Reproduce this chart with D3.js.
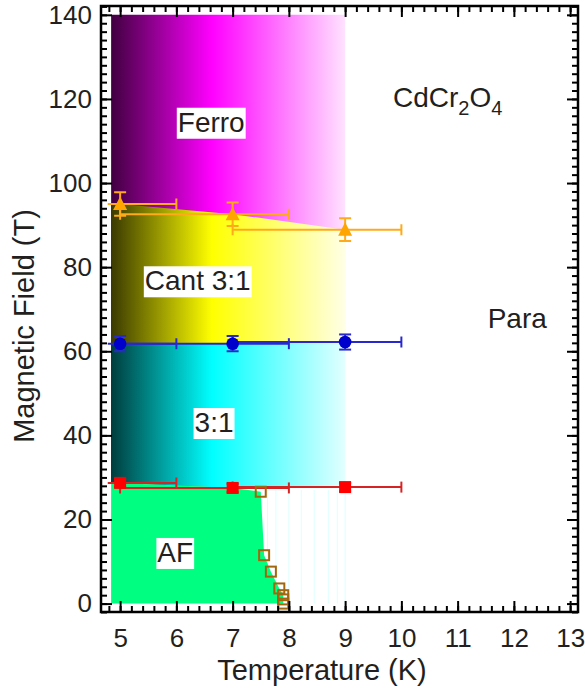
<!DOCTYPE html>
<html>
<head>
<meta charset="utf-8">
<script src="https://cdn.jsdelivr.net/npm/d3@7"></script>
<style>
  body { margin: 0; background: #fff; }
  text { font-family: "Liberation Sans", Arial, Helvetica, sans-serif; fill: #231f20; }
</style>
</head>
<body>
<svg id="chart" width="585" height="690"></svg>
<script>
// measured phase boundaries (T in K, field in T)
const temps = [5, 7, 9];
const tempLo = [3, 5, 7];
const tempHi = [6, 8, 10];
const ferroField = [95, 92.6, 88.9];
const ferroErr = [2.8, 2.8, 2.7];
const cantField = [61.8, 61.8, 62.2];
const cantErr = [1.8, 1.8, 1.8];
const afField = [28.7, 27.5, 27.7];
const afErr = [1, 1, 1];
// AF -> 3:1 transition (open squares)
const neelT = [7.5, 7.56, 7.68, 7.83, 7.9, 7.9, 7.9];
const neelH = [26.6, 11.5, 7.6, 3.6, 2, 1, 0];
// faint strips left by the shading right of the AF phase
const stripT = [7.62, 7.77, 8.0, 8.22, 8.45, 8.7, 8.86, 9.0];
const xTicks = [5, 6, 7, 8, 9, 10, 11, 12, 13];
const yTicks = [0, 20, 40, 60, 80, 100, 120, 140];

const fillT0 = 4.84, fillT1 = 9, fillTop = 140;

const svg = d3.select("#chart");
const x = d3.scaleLinear().domain([4.66, 13.14]).range([101, 578]);
const y = d3.scaleLinear().domain([-2, 142.1]).range([612, 6]);

// boundary lines, extended flat to the left edge of the shading
function boundary(field) {
  return [[fillT0, field[0]]].concat(temps.map((t, i) => [t, field[i]]));
}
const area = d3.area().x(d => x(d[0])).y0(d => y(d[1])).y1(d => y(d[2]));
function band(upper, lower) {
  return upper.map((d, i) => [d[0], d[1], lower[i][1]]);
}
const bTop = boundary(temps.map(() => fillTop));
const bFerro = boundary(ferroField);
const bCant = boundary(cantField);
const bAf = boundary(afField);

const defs = svg.append("defs");
function grad(id, dark, full, pale) {
  const g = defs.append("linearGradient").attr("id", id)
    .attr("gradientUnits", "userSpaceOnUse")
    .attr("x1", x(fillT0)).attr("x2", x(fillT1)).attr("y1", 0).attr("y2", 0);
  g.append("stop").attr("offset", 0).attr("stop-color", dark);
  g.append("stop").attr("offset", 0.43).attr("stop-color", full);
  g.append("stop").attr("offset", 1).attr("stop-color", pale);
}
grad("gFerro", "#400040", "#ff00ff", "#ffe2ff");
grad("gCant", "#3a3a00", "#ffff00", "#ffffe6");
grad("gTri", "#003d3d", "#00ffff", "#e2ffff");

svg.append("clipPath").attr("id", "clip").append("rect")
  .attr("x", x(4.78)).attr("y", 6).attr("width", 578 - x(4.78)).attr("height", 606);

const shade = svg.append("g");
shade.append("path").attr("d", area(band(bTop, bAf))).attr("fill", "url(#gFerro)");
shade.append("path").attr("d", area(band(bFerro, bAf))).attr("fill", "url(#gCant)");
shade.append("path").attr("d", area(band(bCant, bAf))).attr("fill", "url(#gTri)");

shade.selectAll("line.strip").data(stripT).join("line").attr("class", "strip")
  .attr("x1", d => x(d)).attr("x2", d => x(d))
  .attr("y1", y(0)).attr("y2", y(27))
  .attr("stroke", "#dcffff").attr("stroke-width", 1);

// AF region: below the red squares, left of the open squares
const afPoly = [[fillT0, 0], [fillT0, afField[0]], [temps[0], afField[0]], [temps[1], afField[1]]]
  .concat(neelT.map((t, i) => [t, neelH[i]]));
shade.append("path")
  .attr("d", d3.line().x(d => x(d[0])).y(d => y(d[1]))(afPoly) + "Z")
  .attr("fill", "#00ff80");

// error bars
const series = [
  { field: ferroField, err: ferroErr, line: "#ffaa1a", mark: "#ffa500", kind: "tri" },
  { field: cantField, err: cantErr, line: "#2828cc", mark: "#0000cc", kind: "circ" },
  { field: afField, err: afErr, line: "#d42424", mark: "#ff0000", kind: "sq" }
];
const bars = svg.append("g").attr("clip-path", "url(#clip)");
series.forEach(s => {
  temps.forEach((t, i) => {
    const g = bars.append("g").attr("stroke", s.line).attr("stroke-width", 2).attr("fill", "none");
    const yy = y(s.field[i]);
    g.append("line").attr("x1", x(tempLo[i])).attr("x2", x(tempHi[i])).attr("y1", yy).attr("y2", yy);
    [tempLo[i], tempHi[i]].forEach(tc => {
      g.append("line").attr("x1", x(tc)).attr("x2", x(tc)).attr("y1", yy - 5.5).attr("y2", yy + 5.5);
    });
    const y1 = y(s.field[i] + s.err[i]), y2 = y(s.field[i] - s.err[i]);
    g.append("line").attr("x1", x(t)).attr("x2", x(t)).attr("y1", y1).attr("y2", y2);
    [y1, y2].forEach(yc => {
      g.append("line").attr("x1", x(t) - 6).attr("x2", x(t) + 6).attr("y1", yc).attr("y2", yc);
    });
  });
});

// markers
const marks = svg.append("g");
series.forEach(s => {
  const sel = marks.selectAll("g." + s.kind).data(temps.map((t, i) => [t, s.field[i]]))
    .join("g").attr("class", s.kind)
    .attr("transform", d => `translate(${x(d[0])},${y(d[1])})`);
  if (s.kind === "tri") sel.append("path").attr("d", "M0,-7.5L7,6L-7,6Z").attr("fill", s.mark);
  if (s.kind === "circ") sel.append("circle").attr("r", 6.3).attr("fill", s.mark);
  if (s.kind === "sq") sel.append("rect").attr("x", -6).attr("y", -6).attr("width", 12).attr("height", 12).attr("fill", s.mark);
});
marks.selectAll("rect.neel").data(neelT.map((t, i) => [t, neelH[i]]))
  .join("rect").attr("class", "neel")
  .attr("x", d => x(d[0]) - 5).attr("y", d => y(d[1]) - 5)
  .attr("width", 10).attr("height", 10)
  .attr("fill", "none").attr("stroke", "#a2660c").attr("stroke-width", 2);

// phase labels
function boxLabel(txt, t, h, boxed) {
  const g = svg.append("g");
  const tx = g.append("text").attr("x", x(t)).attr("y", y(h))
    .attr("text-anchor", "middle").style("font-size", "28px").text(txt);
  if (boxed) {
    const b = tx.node().getBBox();
    g.insert("rect", "text").attr("x", b.x - 1).attr("y", b.y + 1)
      .attr("width", b.width + 2).attr("height", b.height).attr("fill", "#fff");
  }
}
boxLabel("Ferro", 6.62, 112.2, true);
boxLabel("Cant 3:1", 6.38, 74.5, true);
boxLabel("3:1", 6.67, 40.8, true);
boxLabel("AF", 5.98, 9.9, true);
boxLabel("Para", 12.06, 65.6, false);

const formula = svg.append("text").attr("x", x(9.85)).attr("y", y(118.2)).style("font-size", "28px");
formula.append("tspan").text("CdCr");
formula.append("tspan").attr("dy", 8).style("font-size", "20px").text("2");
formula.append("tspan").attr("dy", -8).text("O");
formula.append("tspan").attr("dy", 8).style("font-size", "20px").text("4");

// axes: ticks on all four sides, pointing inward
const xMinor = d3.range(24, 66).map(i => i / 5);
const yMinor = d3.range(-1, 72).map(i => i * 2);
function axisG(axis, tr) {
  const g = svg.append("g").attr("transform", tr).call(axis);
  g.select(".domain").remove();
  g.selectAll(".tick line").attr("stroke", "#000").attr("stroke-width", 2);
  g.selectAll("text").style("font-size", "26px").attr("fill", "#231f20");
  return g;
}
axisG(d3.axisBottom(x).tickValues(xMinor).tickSize(-6).tickFormat(""), "translate(0,612)");
axisG(d3.axisTop(x).tickValues(xMinor).tickSize(-6).tickFormat(""), "translate(0,6)");
axisG(d3.axisLeft(y).tickValues(yMinor).tickSize(-6).tickFormat(""), "translate(101,0)");
axisG(d3.axisRight(y).tickValues(yMinor).tickSize(-6).tickFormat(""), "translate(578,0)");
axisG(d3.axisBottom(x).tickValues(xTicks).tickSize(-11).tickPadding(17).tickFormat(d3.format("d")), "translate(0,612)");
axisG(d3.axisTop(x).tickValues(xTicks).tickSize(-11).tickFormat(""), "translate(0,6)");
axisG(d3.axisLeft(y).tickValues(yTicks).tickSize(-11).tickPadding(9).tickFormat(d3.format("d")), "translate(101,0)");
axisG(d3.axisRight(y).tickValues(yTicks).tickSize(-11).tickFormat(""), "translate(578,0)");

svg.append("rect").attr("x", 101).attr("y", 6).attr("width", 477).attr("height", 606)
  .attr("fill", "none").attr("stroke", "#000").attr("stroke-width", 2.5);

svg.append("text").attr("x", 322).attr("y", 680).attr("text-anchor", "middle")
  .style("font-size", "29px").text("Temperature (K)");
svg.append("text").attr("transform", "translate(34,326) rotate(-90)").attr("text-anchor", "middle")
  .style("font-size", "29px").text("Magnetic Field (T)");
</script>
</body>
</html>
